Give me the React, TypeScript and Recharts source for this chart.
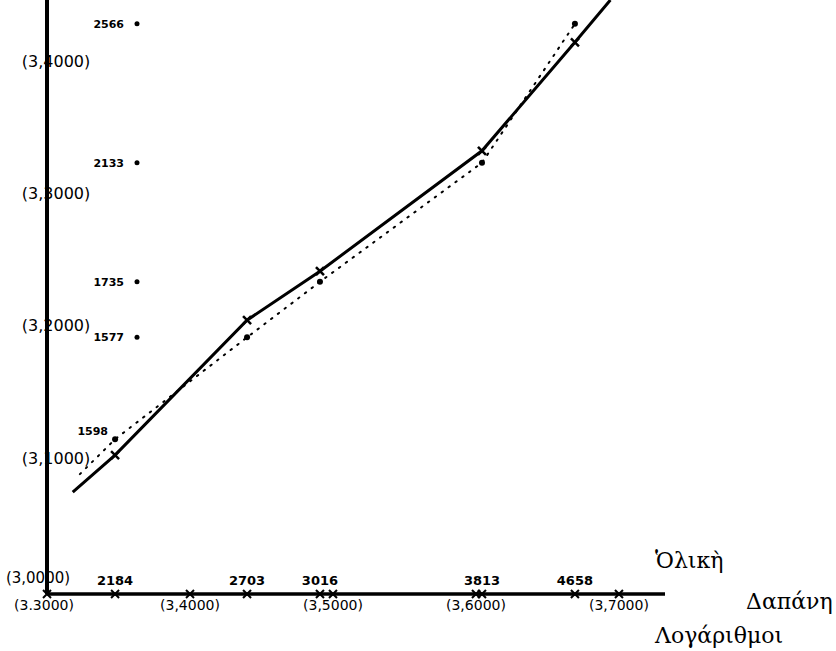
import { ComposedChart, Line, XAxis, YAxis } from 'recharts'

// expenditure values written above the x-axis and their logarithms
const expenditure = ['2184', '2703', '3016', '3813', '4658']
const logExpenditure = [3.3476, 3.4399, 3.4909, 3.6042, 3.6692]

// major axis ticks
const xMajor = [3.3, 3.4, 3.5, 3.6, 3.7]
const xMajorLabels = ['(3.3000)', '(3,4000)', '(3,5000)', '(3,6000)', '(3,7000)']
const yMajor = [3.0, 3.1, 3.2, 3.3, 3.4]
const yMajorLabels = ['(3,0000)', '(3,1000)', '(3,2000)', '(3,3000)', '(3,4000)']

// observed values (dotted line) and their labels on the left
const observedLabels = ['1598', '1577', '1735', '2133', '2566']
const observedLog = [3.117, 3.194, 3.236, 3.326, 3.431]
const observedX = [3.323, 3.3476, 3.4399, 3.4909, 3.6042, 3.6692]
const observedY = [3.0906, 3.117, 3.194, 3.236, 3.326, 3.431]

// fitted line (solid)
const fittedX = [3.318, 3.3476, 3.4399, 3.4909, 3.6042, 3.6692, 3.694]
const fittedY = [3.077, 3.105, 3.207, 3.244, 3.335, 3.417, 3.449]

const fittedData = fittedX.map((x, i) => ({ x, y: fittedY[i] }))
const observedData = observedX.map((x, i) => ({ x, y: observedY[i] }))

const AXIS_X = 47
const AXIS_Y = 594
const hand = "'DejaVu Sans', sans-serif"

function XTick(props: any) {
  const { x, payload } = props
  const v = payload.value
  const i = logExpenditure.indexOf(v)
  const j = xMajor.indexOf(v)
  return (
    <g>
      <line x1={x - 4} y1={AXIS_Y - 4} x2={x + 4} y2={AXIS_Y + 4} stroke="#000" strokeWidth={2} />
      <line x1={x - 4} y1={AXIS_Y + 4} x2={x + 4} y2={AXIS_Y - 4} stroke="#000" strokeWidth={2} />
      {i >= 0 && (
        <text x={x} y={AXIS_Y - 9} textAnchor="middle" fontSize={13} fontWeight="bold" fontFamily={hand} fill="#000">
          {expenditure[i]}
        </text>
      )}
      {j >= 0 && (
        <text x={j === 0 ? x - 3 : x} y={AXIS_Y + 16} textAnchor="middle" fontSize={14} fontFamily={hand} fill="#000">
          {xMajorLabels[j]}
        </text>
      )}
    </g>
  )
}

function YTick(props: any) {
  const { y, payload } = props
  const v = payload.value
  const i = observedLog.indexOf(v)
  if (i >= 0) {
    if (i === 0) {
      return (
        <text x={108} y={y - 4} textAnchor="end" fontSize={11} fontWeight="bold" fontFamily={hand} fill="#000">
          {observedLabels[i]}
        </text>
      )
    }
    return (
      <g>
        <text x={124} y={y + 4} textAnchor="end" fontSize={11} fontWeight="bold" fontFamily={hand} fill="#000">
          {observedLabels[i]}
        </text>
        <circle cx={137} cy={y} r={2.5} fill="#000" />
      </g>
    )
  }
  const j = yMajor.indexOf(v)
  if (j === 0) {
    return (
      <text x={38} y={y - 11} textAnchor="middle" fontSize={15} fontFamily={hand} fill="#000">
        {yMajorLabels[j]}
      </text>
    )
  }
  return (
    <text x={56} y={y + 2} textAnchor="middle" fontSize={16} fontFamily={hand} fill="#000">
      {yMajorLabels[j]}
    </text>
  )
}

function CrossDot(props: any) {
  const { cx, cy, index } = props
  if (index === 0 || index === fittedX.length - 1) return <g key={`f-${index}`} />
  return (
    <g key={`f-${index}`}>
      <line x1={cx - 4} y1={cy - 4} x2={cx + 4} y2={cy + 4} stroke="#000" strokeWidth={2.5} />
      <line x1={cx - 4} y1={cy + 4} x2={cx + 4} y2={cy - 4} stroke="#000" strokeWidth={2.5} />
    </g>
  )
}

function PointDot(props: any) {
  const { cx, cy, index } = props
  if (index === 0) return <g key={`o-${index}`} />
  return <circle key={`o-${index}`} cx={cx} cy={cy} r={3} fill="#000" />
}

const greek = "'DejaVu Serif', 'Liberation Serif', serif"

export default function App() {
  return (
    <div style={{ position: 'absolute', left: 0, top: 0, width: 836, height: 651, background: '#fff' }}>
      <ComposedChart
        width={836}
        height={651}
        margin={{ top: 0, right: 171, bottom: 651 - AXIS_Y - 1, left: AXIS_X - 1 }}
      >
        <XAxis
          dataKey="x"
          type="number"
          domain={[3.3, 3.7322]}
          ticks={[...xMajor, ...logExpenditure].sort((a, b) => a - b)}
          interval={0}
          height={1}
          tickLine={false}
          tick={<XTick />}
          stroke="#000"
          strokeWidth={3.5}
          allowDataOverflow
        />
        <YAxis
          type="number"
          domain={[3.0, 3.449]}
          ticks={[...yMajor, ...observedLog].sort((a, b) => a - b)}
          interval={0}
          width={1}
          tickLine={false}
          tick={<YTick />}
          stroke="#000"
          strokeWidth={4}
          allowDataOverflow
        />
        <Line
          data={observedData}
          dataKey="y"
          type="linear"
          stroke="#000"
          strokeWidth={2}
          strokeDasharray="1.5 7"
          strokeLinecap="round"
          dot={PointDot}
          activeDot={false}
          isAnimationActive={false}
        />
        <Line
          data={fittedData}
          dataKey="y"
          type="linear"
          stroke="#000"
          strokeWidth={3}
          dot={CrossDot}
          activeDot={false}
          isAnimationActive={false}
        />
      </ComposedChart>
      <div style={{ position: 'absolute', left: 655, top: 546, fontFamily: greek, fontSize: 22, lineHeight: '30px' }}>
        Ὁλικὴ
      </div>
      <div style={{ position: 'absolute', left: 746, top: 587, fontFamily: greek, fontSize: 22, lineHeight: '30px' }}>
        Δαπάνη
      </div>
      <div style={{ position: 'absolute', left: 655, top: 621, fontFamily: greek, fontSize: 22, lineHeight: '30px' }}>
        Λογάριθμοι
      </div>
    </div>
  )
}
